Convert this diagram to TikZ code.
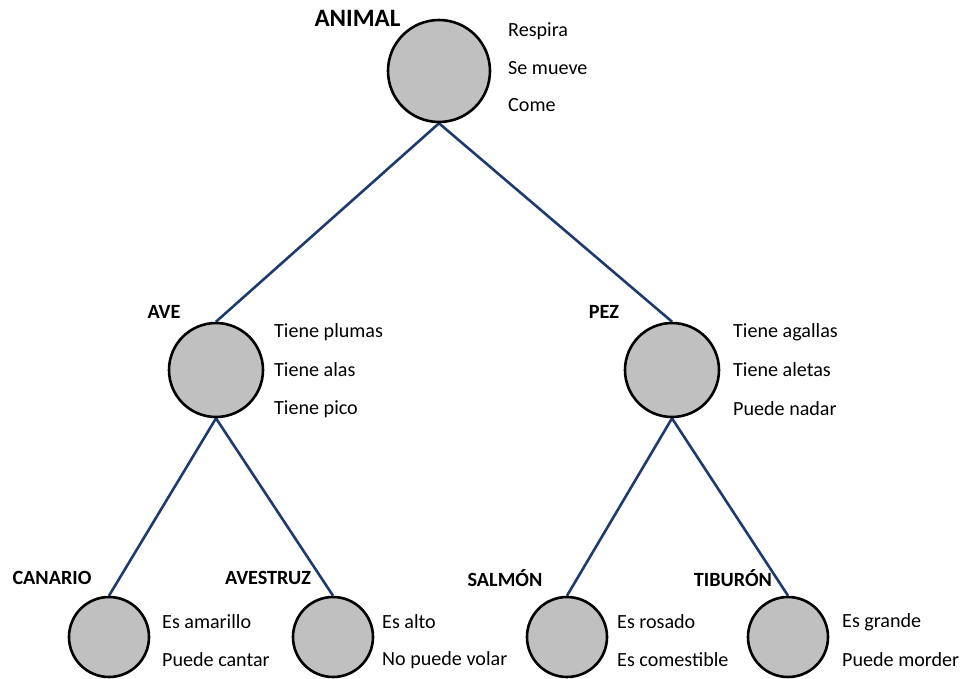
\documentclass[tikz,border=0pt]{standalone}
\usepackage{fontspec}
\setmainfont{Carlito}
\usetikzlibrary{backgrounds}
\definecolor{linecol}{HTML}{1F3A6E}
\definecolor{fillcol}{HTML}{C0C0C0}
\begin{document}
\begin{tikzpicture}[x=1pt,y=-1pt,
  big/.style={circle,draw=black,fill=fillcol,line width=2.6pt,minimum size=102pt,inner sep=0pt},
  mid/.style={circle,draw=black,fill=fillcol,line width=2.6pt,minimum size=94pt,inner sep=0pt},
  small/.style={circle,draw=black,fill=fillcol,line width=2.6pt,minimum size=80pt,inner sep=0pt},
  title/.style={font=\fontsize{20.2}{22}\selectfont\bfseries,inner sep=0pt},
  bigtitle/.style={font=\fontsize{25}{27}\selectfont\bfseries,inner sep=0pt},
  prop/.style={font=\fontsize{20.1}{22}\selectfont,anchor=west,inner sep=0pt},
  edge/.style={draw=linecol,line width=2.6pt}]
\useasboundingbox (0,0) rectangle (964,679);
\node[big] (animal) at (439,71) {};
\node[mid] (ave) at (216,370) {};
\node[mid] (pez) at (672,370) {};
\node[small] (canario) at (109,637) {};
\node[small] (avestruz) at (333,637) {};
\node[small] (salmon) at (567,637) {};
\node[small] (tiburon) at (788,637) {};
\begin{scope}[on background layer]
\draw[edge] (animal.south) -- (ave.north);
\draw[edge] (animal.south) -- (pez.north);
\draw[edge] (ave.south) -- (canario.north);
\draw[edge] (ave.south) -- (avestruz.north);
\draw[edge] (pez.south) -- (salmon.north);
\draw[edge] (pez.south) -- (tiburon.north);
\end{scope}
% titles
\node[bigtitle] (tanimal) at (357.5,18) {ANIMAL};
\node[title] (tave) at (164,312) {AVE};
\node[title] (tpez) at (604,312) {PEZ};
\node[title] (tcanario) at (52,578) {CANARIO};
\node[title] (tavestruz) at (268,578) {AVESTRUZ};
\node[title] (tsalmon) at (505,578) {SALMÓN};
\node[title] (ttiburon) at (733,578) {TIBURÓN};
% properties
\node[prop] (a1) at (508,31) {Respira};
\node[prop] (a2) at (508,68) {Se mueve};
\node[prop] (a3) at (508,105) {Come};
\node[prop] (b1) at (274,332) {Tiene plumas};
\node[prop] (b2) at (274,370) {Tiene alas};
\node[prop] (b3) at (274,409) {Tiene pico};
\node[prop] (c1) at (733,332) {Tiene agallas};
\node[prop] (c2) at (733,370) {Tiene aletas};
\node[prop] (c3) at (733,409) {Puede nadar};
\node[prop] (d1) at (162,622) {Es amarillo};
\node[prop] (d2) at (162,660) {Puede cantar};
\node[prop] (e1) at (382,622) {Es alto};
\node[prop] (e2) at (382,660) {No puede volar};
\node[prop] (f1) at (617,622) {Es rosado};
\node[prop] (f2) at (617,660) {Es comestible};
\node[prop] (g1) at (842,622) {Es grande};
\node[prop] (g2) at (842,660) {Puede morder};
\end{tikzpicture}
\end{document}
